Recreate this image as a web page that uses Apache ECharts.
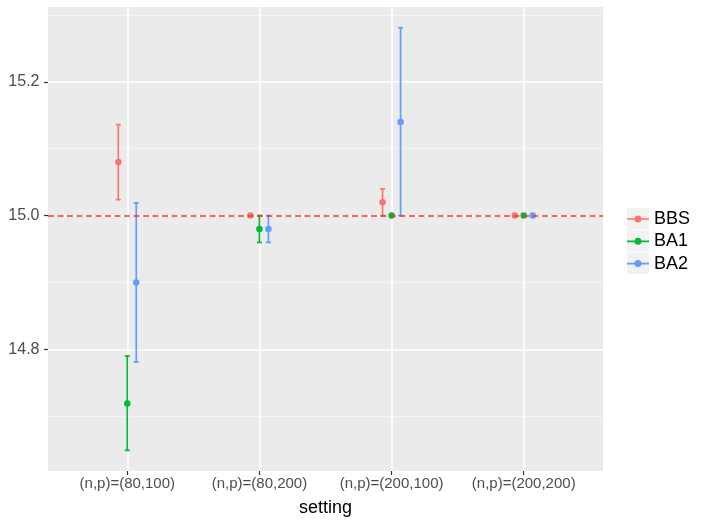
<!DOCTYPE html>
<html>
<head>
<meta charset="utf-8">
<script src="https://cdn.jsdelivr.net/npm/echarts@6/dist/echarts.min.js"></script>
<style>
html,body{margin:0;padding:0;background:#fff;}
#chart{width:702px;height:523px;}
</style>
</head>
<body>
<div id="chart"></div>
<script>
// ---- data ----
var categories = ['(n,p)=(80,100)', '(n,p)=(80,200)', '(n,p)=(200,100)', '(n,p)=(200,200)'];
var seriesNames = ['BBS', 'BA1', 'BA2'];
var bbsMean = [15.080, 15.000, 15.020, 15.000];
var bbsLow  = [15.024, 15.000, 15.000, 15.000];
var bbsHigh = [15.136, 15.000, 15.040, 15.000];
var ba1Mean = [14.719, 14.980, 15.000, 15.000];
var ba1Low  = [14.649, 14.960, 15.000, 15.000];
var ba1High = [14.790, 15.000, 15.000, 15.000];
var ba2Mean = [14.900, 14.980, 15.140, 15.000];
var ba2Low  = [14.781, 14.960, 15.000, 15.000];
var ba2High = [15.019, 15.000, 15.281, 15.000];
var yTicks = [14.8, 15.0, 15.2];
var yMinorGrid = [14.7, 14.9, 15.1, 15.3];
var refValue = 15.0;

// ---- styling ----
var colors = ['#F8766D', '#00BA38', '#619CFF'];
var dodge = [-0.068, 0, 0.068];
var means = [bbsMean, ba1Mean, ba2Mean];
var lows = [bbsLow, ba1Low, ba2Low];
var highs = [bbsHigh, ba1High, ba2High];
var xPositions = categories.map(function (c, i) { return i + 1; });
var FONT = 'Liberation Sans, Arial, sans-serif';

var chart = echarts.init(document.getElementById('chart'), null, {renderer: 'canvas'});

var series = [];
// grid lines (drawn as mark lines beneath the data)
series.push({
  type: 'line', data: [], z: 1, silent: true,
  markLine: {
    z: 1,
    silent: true, symbol: 'none', animation: false,
    label: {show: false},
    emphasis: {disabled: true},
    data: [].concat(
      yMinorGrid.map(function (v) { return {yAxis: v, lineStyle: {color: '#F5F5F5', width: 1, type: 'solid'}}; }),
      yTicks.map(function (v) { return {yAxis: v, lineStyle: {color: '#FFFFFF', width: 1.6, type: 'solid'}}; }),
      xPositions.map(function (v) { return {xAxis: v, lineStyle: {color: '#FFFFFF', width: 1.6, type: 'solid'}}; })
    )
  }
});

seriesNames.forEach(function (name, s) {
  var errData = xPositions.map(function (x, i) { return [x + dodge[s], lows[s][i], highs[s][i]]; });
  series.push({
    name: name,
    type: 'custom',
    z: 5,
    silent: true,
    clip: false,
    data: errData,
    encode: {x: 0, y: [1, 2]},
    renderItem: function (params, api) {
      var x = api.value(0);
      var lo = api.coord([x, api.value(1)]);
      var hi = api.coord([x, api.value(2)]);
      var hw = 2.5, lw = 1.7;
      var fill = colors[s];
      return {
        type: 'group',
        children: [
          {type: 'rect', shape: {x: lo[0] - lw / 2, y: hi[1] - lw / 2, width: lw, height: lo[1] - hi[1] + lw}, style: {fill: fill}},
          {type: 'rect', shape: {x: lo[0] - hw, y: lo[1] - lw / 2, width: 2 * hw, height: lw}, style: {fill: fill}},
          {type: 'rect', shape: {x: hi[0] - hw, y: hi[1] - lw / 2, width: 2 * hw, height: lw}, style: {fill: fill}}
        ]
      };
    }
  });
  series.push({
    name: name,
    type: 'scatter',
    z: 6,
    symbol: 'circle',
    symbolSize: 6.5,
    itemStyle: {color: colors[s], opacity: 1, borderWidth: 0},
    data: xPositions.map(function (x, i) { return [x + dodge[s], means[s][i]]; })
  });
});

// reference dashed line on top
series.push({
  type: 'line', data: [], z: 20, silent: true,
  markLine: {
    z: 20,
    silent: true, symbol: 'none', animation: false,
    label: {show: false},
    emphasis: {disabled: true},
    data: [{yAxis: refValue}],
    lineStyle: {color: '#F0363E', width: 1.6, type: [6, 3.5]}
  }
});

var legendIcon = 'path://M0,2.8 L7.6,2.8 L7.6,4.5 L0,4.5 Z M14.4,2.8 L22,2.8 L22,4.5 L14.4,4.5 Z M14.5,3.65 A3.5,3.5 0 1 1 7.5,3.65 A3.5,3.5 0 1 1 14.5,3.65 Z';

var option = {
  animation: false,
  backgroundColor: '#FFFFFF',
  grid: {left: 48, right: 99, top: 7, bottom: 52, show: true, backgroundColor: '#EBEBEB', borderWidth: 0,
         containLabel: false, outerBoundsMode: 'none'},
  xAxis: {
    type: 'value', min: 0.4, max: 4.6,
    name: 'setting', nameLocation: 'middle', nameGap: 28,
    nameTextStyle: {fontFamily: FONT, fontSize: 18, color: '#000'},
    axisLine: {show: false},
    axisTick: {show: true, length: 4, lineStyle: {color: '#333333', width: 1.2}, customValues: xPositions},
    axisLabel: {
      show: true, margin: 5, fontFamily: FONT, fontSize: 15, color: '#4D4D4D',
      customValues: xPositions,
      formatter: function (v) { return categories[Math.round(v) - 1]; }
    },
    splitLine: {show: false}
  },
  yAxis: {
    type: 'value', min: 14.618, max: 15.312,
    axisLine: {show: false},
    axisTick: {show: true, length: 4, lineStyle: {color: '#333333', width: 1.2}, customValues: yTicks},
    axisLabel: {
      show: true, margin: 8.5, fontFamily: FONT, fontSize: 16, color: '#4D4D4D',
      customValues: yTicks,
      formatter: function (v) { return v.toFixed(1); }
    },
    splitLine: {show: false}
  },
  legend: {
    orient: 'vertical', left: 627, top: 210, padding: 0,
    itemWidth: 22, itemHeight: 7, itemGap: 4.3,
    selectedMode: false,
    textStyle: {fontFamily: FONT, fontSize: 18, color: '#000'},
    data: seriesNames.map(function (n, s) { return {name: n, icon: legendIcon, itemStyle: {color: colors[s]}}; })
  },
  graphic: seriesNames.map(function (n, s) {
    return {type: 'rect', left: 627, top: 208 + s * 22.3, z: -1, silent: true,
      shape: {width: 22, height: 21.5}, style: {fill: '#F2F2F2'}};
  }),
  series: series
};
chart.setOption(option);
</script>
</body>
</html>
